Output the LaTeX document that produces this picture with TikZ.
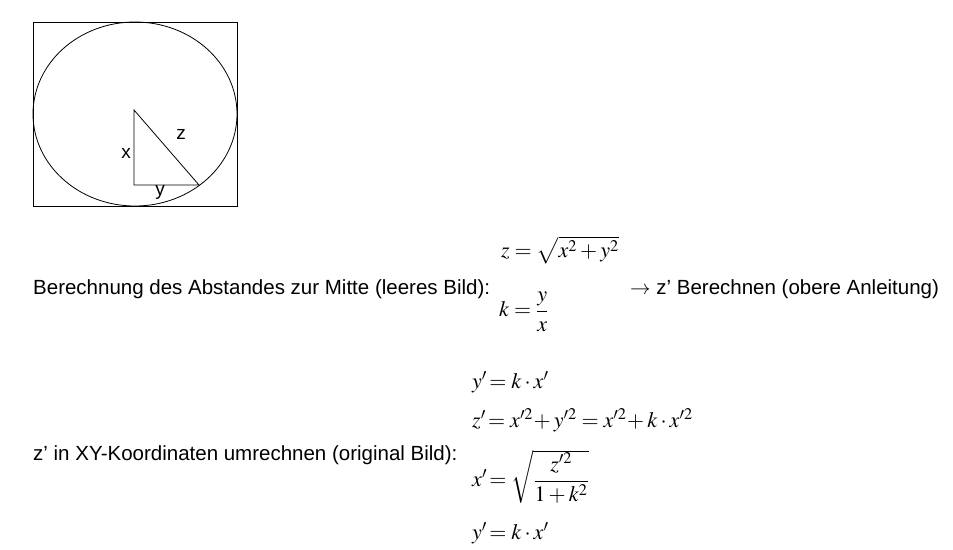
\documentclass[tikz,border=0pt]{standalone}
\usepackage{amsmath}
\usepackage{mathptmx}
\usepackage[no-math]{fontspec}
\setmainfont{Liberation Sans}

\begin{document}
\begin{tikzpicture}[x=1pt,y=-1pt,
  txt/.style={anchor=west, inner sep=0pt, font=\fontsize{20.5}{24}\selectfont},
  eq/.style={anchor=west, inner sep=0pt, font=\fontsize{22}{26}\selectfont},
  lbl/.style={inner sep=0pt, font=\fontsize{19}{22}\selectfont},
  line/.style={line width=0.8pt}
]
\useasboundingbox (0,0) rectangle (953,549);
% picture of the image
\draw[line] (33,22) rectangle (237,206);
\draw[line] (135,114) ellipse [x radius=102, y radius=92];
\coordinate (mid) at (134,110);
\coordinate (corner) at (134,185);
\coordinate (rim) at (199,185);
\draw[line] (mid) -- (corner) -- (rim) -- cycle;
\node[lbl] (xlab) at (126,153) {x};
\node[lbl] (zlab) at (181,134) {z};
\node[lbl] (ylab) at (160,192) {y};

% first step
\node[txt] (abstand) at (33,289) {Berechnung des Abstandes zur Mitte (leeres Bild):};
\node[eq] (zeq) at (501,250) {$z = \sqrt{x^2 + y^2}$};
\node[eq] (keq) at (499,312) {$k = \dfrac{y}{x}$};
\node[txt] (hint) at (630,289) {$\rightarrow$~z’ Berechnen (obere Anleitung)};

% second step
\node[txt] (umrechnen) at (33,455) {z’ in XY-Koordinaten umrechnen (original Bild):};
\node[eq] (yeq) at (472,382) {$y'\!= k\cdot x'$};
\node[eq] (zsq) at (472,420) {$z'\!= x'^2\!+y'^2 = x'^2\!+k\cdot x'^2$};
\node[eq] (xeq) at (472,477) {$x'\!= \sqrt{\dfrac{z'^2}{1+k^2}}$};
\node[eq] (yeq2) at (472,533) {$y'\!= k\cdot x'$};
\end{tikzpicture}
\end{document}
